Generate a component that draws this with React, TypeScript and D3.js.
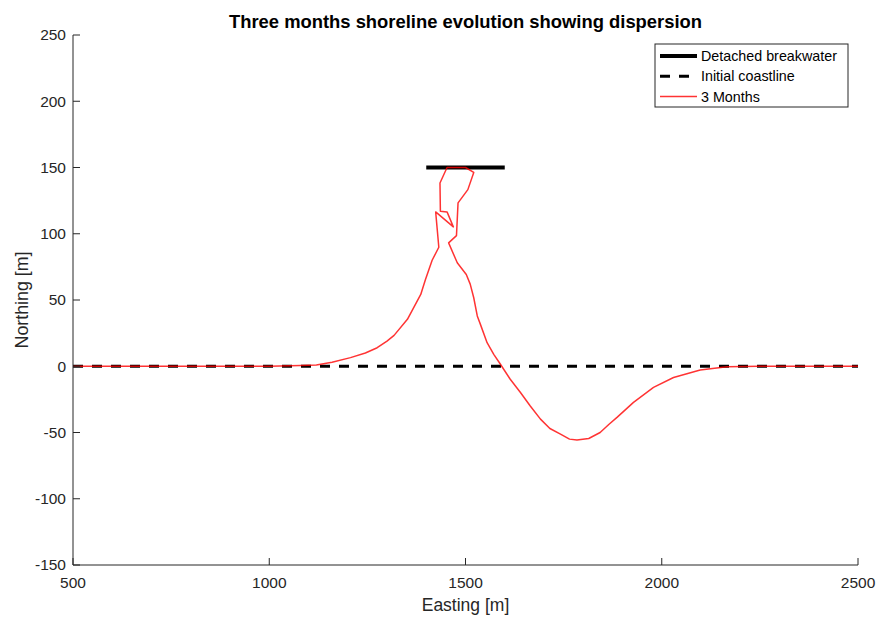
import { line as d3_line, scaleLinear } from "d3";

// Easting [m], Northing [m] of the shoreline after three months
const shorelineX = [
  500, 1000, 1080, 1120, 1160, 1207, 1245, 1275, 1300, 1318, 1352, 1386, 1398,
  1415, 1432, 1424, 1469, 1453, 1436, 1435, 1453, 1500, 1521, 1506, 1481, 1477,
  1457, 1479, 1502, 1512, 1521, 1530, 1538, 1555, 1572, 1589, 1614, 1640, 1665,
  1691, 1715, 1742, 1765, 1784, 1814, 1843, 1865, 1886, 1928, 1979, 2030, 2098,
  2166, 2250, 2500,
];
const shorelineY = [
  0, 0, 0.5, 1, 3, 6.5, 10, 14, 19, 23.3, 35.4, 54.2, 65.5, 80, 89.8, 116.5,
  105.2, 116.5, 117, 138.3, 150, 150, 146.3, 133.3, 123.3, 98.6, 93.1, 78.1,
  69.3, 62, 51.7, 38, 31.6, 17.8, 9, 1.5, -9.8, -19.8, -30, -39.9, -47, -51.2,
  -55, -55.7, -54.5, -50, -44, -38.6, -27.3, -16, -8.5, -2.8, -0.3, 0, 0,
];

const breakwaterX = [1400, 1600];
const breakwaterY = [150, 150];
const coastX = [500, 2500];
const coastY = [0, 0];

const xTicks = [500, 1000, 1500, 2000, 2500];
const yTicks = [-150, -100, -50, 0, 50, 100, 150, 200, 250];

const legendLabels = ["Detached breakwater", "Initial coastline", "3 Months"];

const W = 878;
const H = 617;
const m = { top: 35, right: 20, bottom: 52, left: 73 };
const axisColor = "#262626";
const font = "'Liberation Sans', Arial, Helvetica, sans-serif";

export default function App() {
  const x = scaleLinear().domain([500, 2500]).range([m.left, W - m.right]);
  const y = scaleLinear().domain([-150, 250]).range([H - m.bottom, m.top]);

  const path = d3_line<[number, number]>()
    .x((d) => x(d[0]))
    .y((d) => y(d[1]));

  const zip = (xs: number[], ys: number[]) =>
    xs.map((v, i) => [v, ys[i]] as [number, number]);

  const x0 = m.left;
  const y0 = H - m.bottom;
  const lgX = 655;
  const lgY = 44;

  return (
    <svg
      width={W}
      height={H}
      style={{ position: "absolute", left: 0, top: 0, background: "#fff" }}
      fontFamily={font}
    >
      {/* titulo */}
      <text
        x={(m.left + W - m.right) / 2}
        y={28}
        textAnchor="middle"
        fontSize={18.4}
        fontWeight="bold"
        fill="#000"
      >
        Three months shoreline evolution showing dispersion
      </text>

      {/* lineas de datos */}
      <path
        d={path(zip(breakwaterX, breakwaterY))!}
        stroke="#000"
        strokeWidth={4}
        fill="none"
      />
      <path
        d={path(zip(coastX, coastY))!}
        stroke="#000"
        strokeWidth={3}
        strokeDasharray="10,9"
        fill="none"
      />
      <path
        d={path(zip(shorelineX, shorelineY))!}
        stroke="#ff0000"
        strokeWidth={1.5}
        strokeOpacity={0.8}
        strokeLinejoin="round"
        fill="none"
      />

      {/* ejes */}
      <line x1={x0} x2={x0} y1={m.top} y2={y0} stroke={axisColor} />
      <line x1={x0} x2={W - m.right} y1={y0} y2={y0} stroke={axisColor} />
      {yTicks.map((t) => (
        <g key={t} transform={`translate(0,${y(t)})`}>
          <line x1={x0} x2={x0 + 7} stroke={axisColor} />
          <text
            x={x0 - 7}
            dy="0.35em"
            textAnchor="end"
            fontSize={15.5}
            fill={axisColor}
          >
            {t}
          </text>
        </g>
      ))}
      {xTicks.map((t) => (
        <g key={t} transform={`translate(${x(t)},0)`}>
          <line y1={y0} y2={y0 - 7} stroke={axisColor} />
          <text
            y={y0 + 23}
            textAnchor="middle"
            fontSize={15.5}
            fill={axisColor}
          >
            {t}
          </text>
        </g>
      ))}
      <text
        x={(m.left + W - m.right) / 2}
        y={611}
        textAnchor="middle"
        fontSize={17.5}
        fill={axisColor}
      >
        Easting [m]
      </text>
      <text
        transform={`translate(28,${(m.top + y0) / 2}) rotate(-90)`}
        textAnchor="middle"
        fontSize={17.8}
        fill={axisColor}
      >
        Northing [m]
      </text>

      {/* leyenda */}
      <rect
        x={lgX}
        y={lgY}
        width={193}
        height={63}
        fill="#fff"
        stroke={axisColor}
        strokeWidth={1}
      />
      {legendLabels.map((label, i) => {
        const ly = lgY + 12 + i * 20.3;
        return (
          <g key={label}>
            {i === 0 && (
              <line x1={lgX + 5} x2={lgX + 42} y1={ly} y2={ly} stroke="#000" strokeWidth={4} />
            )}
            {i === 1 && (
              <line
                x1={lgX + 5}
                x2={lgX + 42}
                y1={ly}
                y2={ly}
                stroke="#000"
                strokeWidth={3}
                strokeDasharray="10,9"
              />
            )}
            {i === 2 && (
              <line
                x1={lgX + 5}
                x2={lgX + 42}
                y1={ly}
                y2={ly}
                stroke="#ff0000"
                strokeWidth={1.5}
                strokeOpacity={0.8}
              />
            )}
            <text x={lgX + 46} y={ly} dy="0.35em" fontSize={14.3} fill="#000">
              {label}
            </text>
          </g>
        );
      })}
    </svg>
  );
}
